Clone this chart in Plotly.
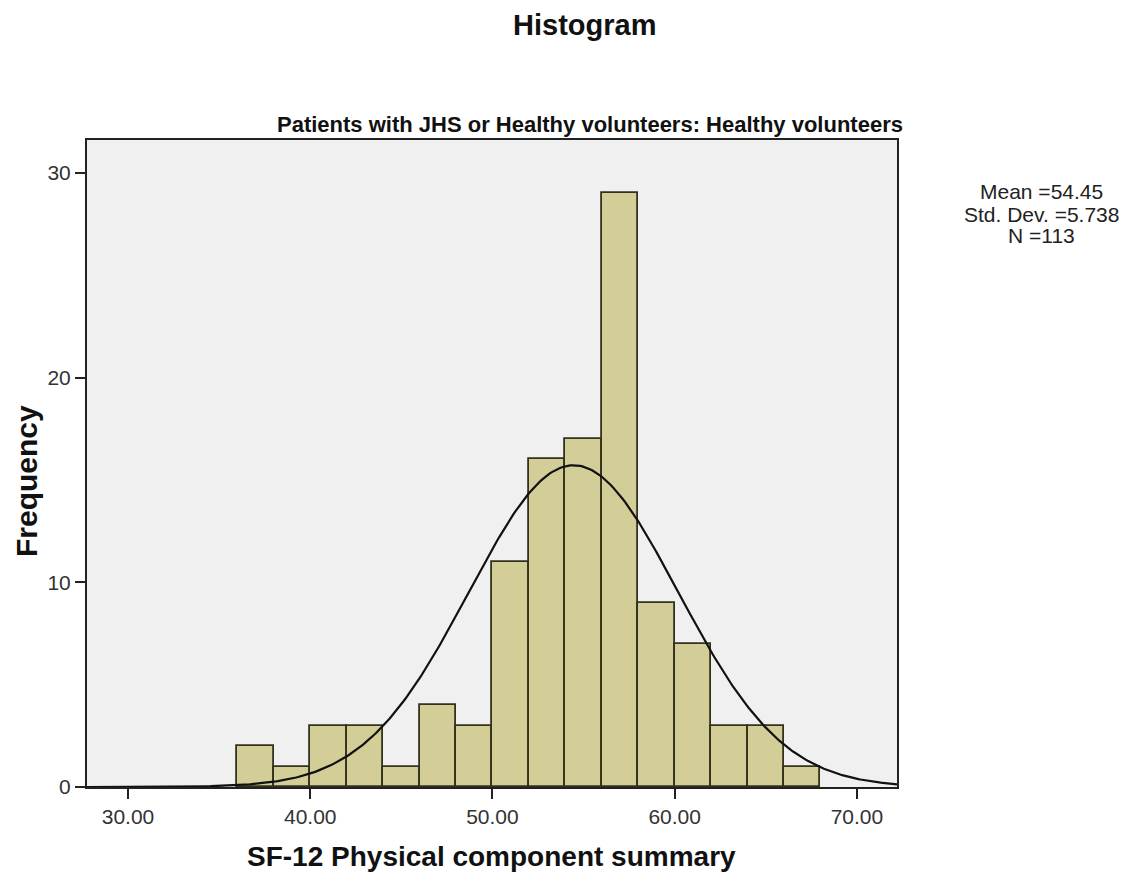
import numpy as np
import plotly.graph_objects as go

# Histogram data (bin width 2)
bin_starts = [36, 38, 40, 42, 44, 46, 48, 50, 52, 54, 56, 58, 60, 62, 64, 66]
frequencies = [2, 1, 3, 3, 1, 4, 3, 11, 16, 17, 29, 9, 7, 3, 3, 1]
bin_width = 2

# Summary statistics
mean_val = 54.45
std_val = 5.738
n_val = 113

x_ticks = [30, 40, 50, 60, 70]
x_tick_labels = ["30.00", "40.00", "50.00", "60.00", "70.00"]
y_ticks = [0, 10, 20, 30]

centers = [b + bin_width / 2 for b in bin_starts]

# Fitted normal curve from the stated statistics
xc = np.linspace(27.75, 72.2, 400)
yc = n_val * bin_width * np.exp(-0.5 * ((xc - mean_val) / std_val) ** 2) / (std_val * np.sqrt(2 * np.pi))

FONT = "Arial, Liberation Sans, sans-serif"

W, H = 1127, 872
L, T = 79, 132
PW, PH = 810, 647


def px(X):
    return (X - 87) / PW


def py(Y):
    return (787 - Y) / PH


fig = go.Figure()
fig.add_trace(go.Bar(
    x=centers, y=frequencies, width=bin_width,
    marker=dict(color="#D3CE97", line=dict(color="#33321c", width=1.8)),
    showlegend=False, hoverinfo="x+y",
))
fig.add_trace(go.Scatter(
    x=xc, y=yc, mode="lines", line=dict(color="#111111", width=2.2),
    showlegend=False, hoverinfo="skip",
))

fig.update_layout(
    width=W, height=H,
    margin=dict(l=L, r=W - L - PW, t=T, b=H - T - PH),
    paper_bgcolor="white", plot_bgcolor="#F0F0F0",
    font=dict(family=FONT, color="#222222", size=21),
    bargap=0,
)
fig.update_xaxes(
    range=[27.75, 72.2], tickvals=x_ticks, ticktext=x_tick_labels,
    ticks="outside", ticklen=10, tickwidth=2, tickcolor="#222222",
    showline=True, linecolor="#222222", linewidth=2, mirror=True,
    showgrid=False, zeroline=False, tickfont=dict(size=21, family=FONT, color="#333333"),
)
fig.update_yaxes(
    range=[0, 31.6], tickvals=y_ticks,
    ticks="outside", ticklen=10, tickwidth=2, tickcolor="#222222",
    showline=True, linecolor="#222222", linewidth=2, mirror=True,
    showgrid=False, zeroline=False, tickfont=dict(size=21, family=FONT, color="#333333"),
)

fig.add_annotation(
    text="<b>Histogram</b>",
    xref="paper", yref="paper", x=px(584), y=py(25),
    xanchor="center", yanchor="middle", showarrow=False,
    font=dict(size=29, family=FONT, color="#111111"),
)
fig.add_annotation(
    text="<b>Patients with JHS or Healthy volunteers: Healthy volunteers</b>",
    xref="paper", yref="paper", x=px(590), y=py(125),
    xanchor="center", yanchor="middle", showarrow=False,
    font=dict(size=22, family=FONT, color="#111111"),
)
stat_lines = [f"Mean ={mean_val}", f"Std. Dev. ={std_val}", f"N ={n_val}"]
for line, yy in zip(stat_lines, [192, 214, 236]):
    fig.add_annotation(
        text=line, xref="paper", yref="paper", x=px(1041), y=py(yy),
        xanchor="center", yanchor="middle", showarrow=False,
        font=dict(size=21, family=FONT, color="#222222"),
    )
fig.add_annotation(
    text="<b>Frequency</b>", textangle=-90,
    xref="paper", yref="paper", x=px(26), y=py(481),
    xanchor="center", yanchor="middle", showarrow=False,
    font=dict(size=30, family=FONT, color="#111111"),
)
fig.add_annotation(
    text="<b>SF-12 Physical component summary</b>",
    xref="paper", yref="paper", x=px(491), y=py(856),
    xanchor="center", yanchor="middle", showarrow=False,
    font=dict(size=28, family=FONT, color="#111111"),
)

fig.write_html("out.html")
